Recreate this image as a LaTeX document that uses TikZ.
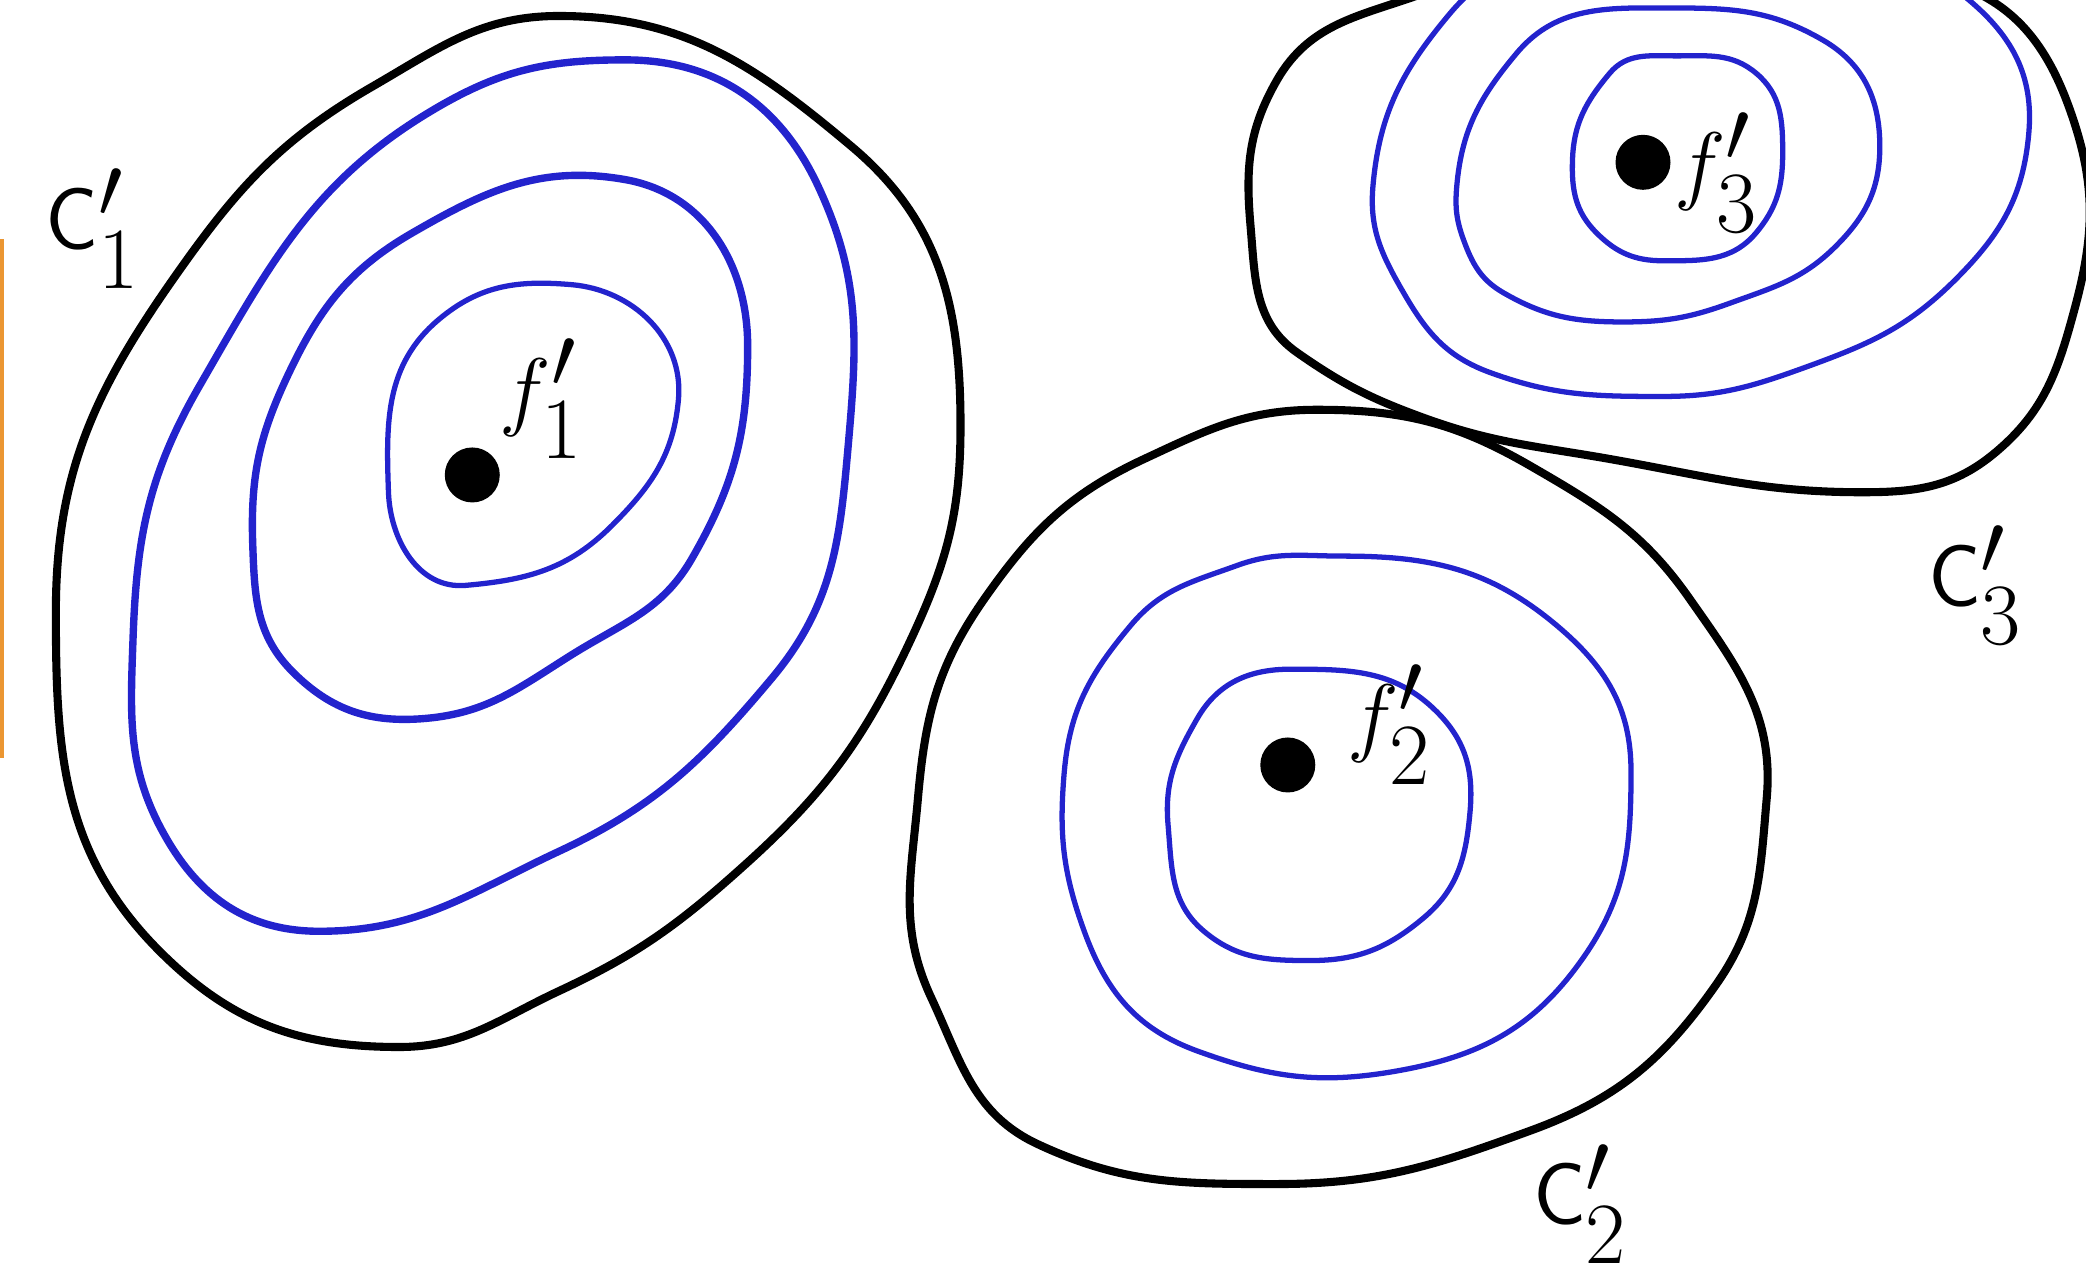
\documentclass[tikz,border=0pt]{standalone}
\usepackage{amsmath}
\usepackage{xcolor}
\usepackage{tikz}
\definecolor{penblue}{RGB}{35,35,205}
\definecolor{edgeorange}{RGB}{235,150,50}

\begin{document}
\begin{tikzpicture}[
x=0.013304cm,y=0.013304cm,yscale=-1,
border/.style={draw=black,line width=2.3pt,line join=round},
contour/.style={draw=penblue,line width=1.5pt},
heavycontour/.style={draw=penblue,line width=2.1pt},
dotnode/.style={circle,fill=black,inner sep=0pt,minimum size=0.55cm},
lbl/.style={font=\fontsize{40}{42}\selectfont,inner sep=0pt},
setlbl/.style={font=\fontsize{50}{52}\selectfont,inner sep=0pt}
]
\useasboundingbox (0,0) rectangle (1568,968);
\draw[edgeorange,line width=1.2pt] (1.5,180)--(1.5,570);
% first region
\draw[border] (420,12) to[out=0,in=220] (640,110) to[out=40,in=270] (722,320)
  to[out=90,in=295] (685,480) to[out=115,in=318] (560,650) to[out=138,in=335] (420,745)
  to[out=155,in=0] (300,787) to[out=180,in=45] (120,715) to[out=225,in=90] (42,460)
  to[out=270,in=125] (130,210) to[out=305,in=150] (280,65) to[out=330,in=180] cycle;
\draw[heavycontour] (470,45) to[out=0,in=245] (615,140) to[out=65,in=275] (638,330)
  to[out=95,in=310] (580,510) to[out=130,in=335] (420,640) to[out=155,in=0] (240,700)
  to[out=180,in=60] (125,630) to[out=240,in=92] (100,480) to[out=272,in=120] (150,290)
  to[out=300,in=150] (330,80) to[out=330,in=180] cycle;
\draw[heavycontour] (470,135) to[out=10,in=270] (562,260) to[out=90,in=300] (520,420)
  to[out=120,in=328] (430,492) to[out=148,in=355] (320,540) to[out=175,in=45] (220,505)
  to[out=225,in=88] (190,410) to[out=268,in=115] (215,285) to[out=295,in=150] (310,175)
  to[out=330,in=190] cycle;
\draw[contour] (430,214) to[out=5,in=275] (510,300) to[out=95,in=315] (460,395)
  to[out=135,in=355] (350,440) to[out=175,in=88] (292,370) to[out=268,in=140] (330,240)
  to[out=320,in=185] cycle;
\node[dotnode] (p1) at (355,357) {};
\node[lbl,anchor=south west] (f1) at (375,345) {$f_1'$};
\node[setlbl] (c1) at (70,172) {$\mathsf{C}_1'$};
% second region
\draw[border] (990,308) to[out=0,in=210] (1150,350) to[out=30,in=235] (1270,450)
  to[out=55,in=275] (1328,600) to[out=95,in=305] (1290,740) to[out=125,in=340] (1150,850)
  to[out=160,in=0] (960,890) to[out=180,in=25] (780,860) to[out=205,in=65] (700,750)
  to[out=245,in=95] (690,600) to[out=275,in=125] (740,450) to[out=305,in=155] (860,345)
  to[out=335,in=180] cycle;
\draw[contour] (1010,418) to[out=0,in=220] (1170,470) to[out=40,in=270] (1226,580)
  to[out=90,in=305] (1190,720) to[out=125,in=350] (1050,805) to[out=170,in=20] (900,790)
  to[out=200,in=70] (815,700) to[out=250,in=95] (800,580) to[out=275,in=130] (850,470)
  to[out=310,in=160] (930,425) to[out=340,in=180] cycle;
\draw[contour] (970,503) to[out=0,in=225] (1080,535) to[out=45,in=275] (1105,610)
  to[out=95,in=320] (1070,690) to[out=140,in=0] (985,722) to[out=180,in=40] (905,700)
  to[out=220,in=85] (878,620) to[out=265,in=120] (900,540) to[out=300,in=180] cycle;
\node[dotnode] (p2) at (968,575) {};
\node[lbl,anchor=south west] (f2) at (1012,590) {$f_2'$};
\node[setlbl] (c2) at (1188,905) {$\mathsf{C}_2'$};
% third region
\draw[border] (960,60) to[out=300,in=160] (1070,-5) to[out=340,in=180] (1250,-35)
  to[out=0,in=195] (1460,-15) to[out=15,in=250] (1555,80) to[out=70,in=285] (1560,230)
  to[out=105,in=320] (1500,340) to[out=140,in=0] (1400,370) to[out=180,in=10] (1210,345)
  to[out=190,in=20] (1070,314) to[out=200,in=35] (975,265) to[out=215,in=85] (940,170)
  to[out=265,in=120] cycle;
\draw[contour] (1032,140) to[out=275,in=130] (1090,10) to[out=310,in=180] (1280,-35)
  to[out=0,in=220] (1480,0) to[out=40,in=275] (1525,100) to[out=95,in=315] (1470,210)
  to[out=135,in=340] (1360,275) to[out=160,in=0] (1250,298) to[out=180,in=20] (1120,280)
  to[out=200,in=60] (1055,220) to[out=240,in=95] cycle;
\draw[contour] (1095,140) to[out=275,in=130] (1140,40) to[out=310,in=180] (1260,6)
  to[out=0,in=210] (1370,30) to[out=30,in=270] (1413,110) to[out=90,in=315] (1380,185)
  to[out=135,in=340] (1300,228) to[out=160,in=0] (1220,242) to[out=180,in=30] (1130,220)
  to[out=210,in=70] (1100,180) to[out=250,in=95] cycle;
\draw[contour] (1182,120) to[out=272,in=130] (1210,55) to[out=310,in=180] (1260,42)
  to[out=0,in=220] (1320,55) to[out=40,in=270] (1340,115) to[out=90,in=310] (1320,175)
  to[out=130,in=0] (1250,196) to[out=180,in=45] (1200,175) to[out=225,in=92] cycle;
\node[dotnode] (p3) at (1235,122) {};
\node[lbl,anchor=south west] (f3) at (1258,175) {$f_3'$};
\node[setlbl] (c3) at (1485,440) {$\mathsf{C}_3'$};
\end{tikzpicture}
\end{document}
